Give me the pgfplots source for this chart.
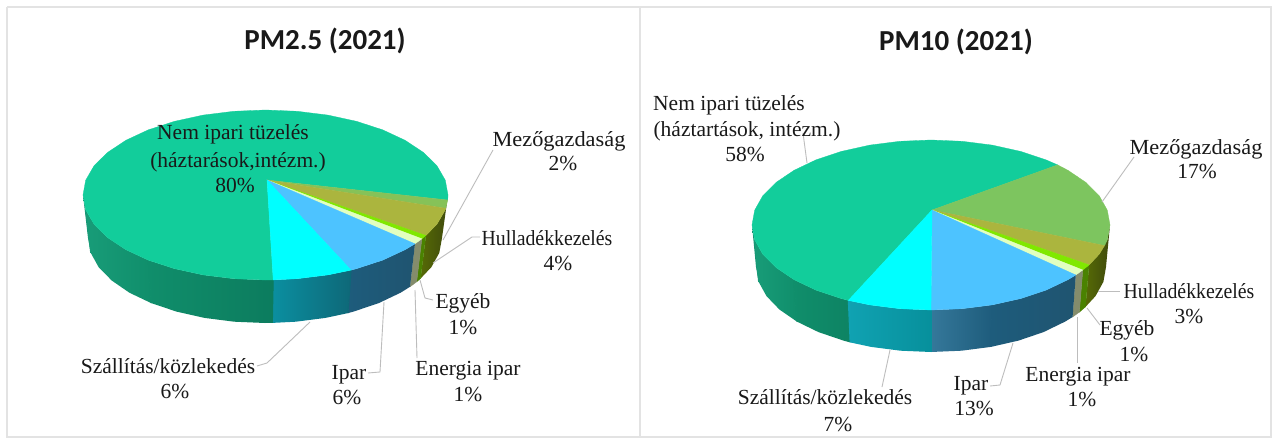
\documentclass[border=0pt]{standalone}
\usepackage{fontspec}
\setmainfont{Liberation Serif}
\newfontfamily\ttlfont{Carlito}
\usepackage{xcolor}
\usepackage{graphicx}
\usepackage{pgfplots}
\pgfplotsset{compat=1.18}

\definecolor{topgreen}{HTML}{12CD9B}
\definecolor{topmezo}{HTML}{7DC55F}
\definecolor{topolive}{HTML}{ABB53E}
\definecolor{topbright}{HTML}{80E800}
\definecolor{toppale}{HTML}{E2FFC0}
\definecolor{topblue}{HTML}{4DC3FF}
\definecolor{topcyan}{HTML}{00FFFF}
\definecolor{gd}{HTML}{0C7C5E}
\definecolor{gm}{HTML}{108E6B}
\definecolor{gl}{HTML}{189C78}
\definecolor{ge}{HTML}{149070}
\definecolor{td}{HTML}{0E6878}
\definecolor{tl}{HTML}{0B8FA0}
\definecolor{tr}{HTML}{10A2B2}
\definecolor{ts}{HTML}{07909C}
\definecolor{bd}{HTML}{1F5470}
\definecolor{bm}{HTML}{1E5C7C}
\definecolor{bl}{HTML}{35789A}
\definecolor{od}{HTML}{3F4A0C}
\definecolor{ol}{HTML}{566A06}
\definecolor{sb}{HTML}{4A8200}
\definecolor{sg}{HTML}{848C6C}
\definecolor{leader}{HTML}{BDBDBD}

\newcommand{\pc}[2]{\addplot[fill=#1,draw=#1,line width=0.3pt,forget plot] coordinates {#2} -- cycle;}
\newcommand{\sd}[3]{\addplot[left color=#1,right color=#2,draw=none,forget plot] coordinates {#3} -- cycle;}
\newcommand{\seam}[2]{\addplot[draw=#1,line width=1pt,forget plot] coordinates {#2};}
\newcommand{\ldr}[1]{\addplot[draw=leader,line width=0.9pt,forget plot] coordinates {#1};}
\newcommand{\lb}[3]{\node[anchor=base,inner sep=0pt,text=black!90,font=\fontsize{21.5}{24}\selectfont] at (axis cs:#1,#2) {#3};}

\begin{document}
\begin{tikzpicture}
\begin{axis}[
  scale only axis,
  width=1278pt, height=439pt,
  xmin=0, xmax=1278, ymin=0, ymax=439,
  y dir=reverse,
  hide axis,
  no markers,
  clip=false,
]
\addplot[fill=white,draw=none,forget plot] coordinates {(0,0) (1278,0) (1278,439) (0,439)} -- cycle;
% panel frames
\addplot[draw=black!11,line width=1.2pt,forget plot] coordinates {(7,7) (640,7) (640,437) (7,437) (7,7)};
\addplot[draw=black!11,line width=1.2pt,forget plot] coordinates {(640,7) (1271,7) (1271,437) (640,437)};

% ---- PM2.5 side wall
\sd{ol}{od}{(448,195) (445.3,209.8) (437,224.1) (425.9,235.5) (420.6,278.5) (431.4,267.1) (439.3,252.8) (442,238)}
\pc{sb}{(425.9,235.5) (421.9,238.8) (416.7,281.8) (420.6,278.5)}
\pc{sg}{(421.9,238.8) (415,243.8) (410,286.8) (416.7,281.8)}
\sd{bm}{bd}{(415,243.8) (405.3,249.6) (382.8,260.1) (356.8,268.6) (351.1,270.1) (348,313.1) (353.5,311.6) (378.8,303.1) (400.6,292.7) (410,286.8)}
\sd{tl}{td}{(351.1,270.1) (327.9,274.9) (297.3,278.7) (273.2,279.9) (272.4,322.9) (295.8,321.7) (325.5,317.9) (348,313.1)}
\sd{gm}{gd}{(273.2,279.9) (265.5,280) (233.7,278.7) (203.1,274.9) (174.3,268.6) (148.2,260.1) (151.2,303.1) (176.5,311.6) (204.5,317.9) (234.2,321.7) (265,323) (272.4,322.9)}
\sd{gl}{gm}{(148.2,260.1) (125.7,249.6) (107.5,237.5) (94,224.1) (85.7,209.8) (90.7,252.8) (98.6,267.1) (111.7,280.5) (129.4,292.7) (151.2,303.1)}
\sd{ge}{gl}{(85.7,209.8) (83,195) (88,238) (90.7,252.8)}
\seam{gm}{(148.2,260.1) (151.2,303.1)}
\seam{gl}{(85.7,209.8) (90.7,252.8)}
\seam{td}{(351.1,270.1) (348,313.1)}
\seam{gd}{(273.2,279.9) (272.4,322.9)}

% ---- PM2.5 top face
\pc{topgreen}{(267,180) (273.2,279.9) (265.5,280) (233.7,278.7) (203.1,274.9) (174.3,268.6) (148.2,260.1) (125.7,249.6) (107.5,237.5) (94,224.1) (85.7,209.8) (83,195) (85.7,180.2) (94,165.9) (107.5,152.5) (125.7,140.4) (148.2,129.9) (174.3,121.4) (203.1,115.1) (233.7,111.3) (265.5,110) (297.3,111.3) (327.9,115.1) (356.8,121.4) (382.8,129.9) (405.3,140.4) (423.5,152.5) (437,165.9) (445.3,180.2) (448,195) (447.7,200)}
\pc{topmezo!80!topolive}{(267,180) (447.7,200) (445.8,208.3)}
\pc{topolive}{(267,180) (445.8,208.3) (445.3,209.8) (437,224.1) (425.9,235.5)}
\pc{topbright}{(267,180) (425.9,235.5) (421.9,238.8)}
\pc{toppale}{(267,180) (421.9,238.8) (415,243.8)}
\pc{topblue}{(267,180) (415,243.8) (405.3,249.6) (382.8,260.1) (356.8,268.6) (351.1,270.1)}
\pc{topcyan}{(267,180) (351.1,270.1) (327.9,274.9) (297.3,278.7) (273.2,279.9)}

% ---- PM10 side wall
\sd{ol}{od}{(1110,225) (1107.3,239.8) (1099.3,254.1) (1089.1,264.9) (1085.5,306.9) (1095.5,296.1) (1103.4,281.8) (1106,267)}
\pc{sb}{(1089.1,264.9) (1082.8,270) (1079.4,312.1) (1085.5,306.9)}
\pc{sg}{(1082.8,270) (1075.8,275) (1072.6,317) (1079.4,312.1)}
\sd{bm}{bd}{(1075.8,275) (1068.1,279.6) (1046.1,290.1) (1020.5,298.6) (992.2,304.9) (990.9,346.9) (1018.5,340.6) (1043.5,332.1) (1065.1,321.6) (1072.6,317)}
\sd{bl}{bm}{(992.2,304.9) (962.1,308.7) (931,310) (931,352) (961.5,350.7) (990.9,346.9)}
\sd{tr}{ts}{(931,310) (899.9,308.7) (869.8,304.9) (848.3,300.4) (850.1,342.4) (871.1,346.9) (900.5,350.7) (931,352)}
\sd{gm}{gd!60!gm}{(848.3,300.4) (841.5,298.6) (815.9,290.1) (793.9,279.6) (796.9,321.6) (818.5,332.1) (843.5,340.6) (850.1,342.4)}
\sd{gl}{gm}{(793.9,279.6) (776,267.5) (762.7,254.1) (754.7,239.8) (758.6,281.8) (766.5,296.1) (779.4,309.5) (796.9,321.6)}
\sd{ge}{gl}{(754.7,239.8) (752,225) (756,267) (758.6,281.8)}
\seam{gm}{(793.9,279.6) (796.9,321.6)}
\seam{gl}{(754.7,239.8) (758.6,281.8)}
\seam{bm}{(992.2,304.9) (990.9,346.9)}
\seam{ts}{(931,310) (931,352)}
\seam{tr}{(848.3,300.4) (850.1,342.4)}

% ---- PM10 top face
\pc{topgreen}{(932,210) (848.3,300.4) (841.5,298.6) (815.9,290.1) (793.9,279.6) (776,267.5) (762.7,254.1) (754.7,239.8) (752,225) (754.7,210.2) (762.7,195.9) (776,182.5) (793.9,170.4) (815.9,159.9) (841.5,151.4) (869.8,145.1) (899.9,141.3) (931,140) (962.1,141.3) (992.2,145.1) (1020.5,151.4) (1046.1,159.9) (1057.6,164.9)}
\pc{topmezo}{(932,210) (1057.6,164.9) (1068.1,170.4) (1086,182.5) (1099.3,195.9) (1107.3,210.2) (1110,225) (1107.3,239.8) (1104.6,245.6)}
\pc{topolive}{(932,210) (1104.6,245.6) (1099.3,254.1) (1089.1,264.9)}
\pc{topbright}{(932,210) (1089.1,264.9) (1082.8,270)}
\pc{toppale}{(932,210) (1082.8,270) (1075.8,275)}
\pc{topblue}{(932,210) (1075.8,275) (1068.1,279.6) (1046.1,290.1) (1020.5,298.6) (992.2,304.9) (962.1,308.7) (931,310)}
\pc{topcyan}{(932,210) (931,310) (899.9,308.7) (869.8,304.9) (848.3,300.4)}

% ---- leader lines, PM2.5
\ldr{(443,240) (493,150)}
\ldr{(433,263) (472,237) (480,237)}
\ldr{(420,280) (425,298) (433,300)}
\ldr{(415,290) (417,358)}
\ldr{(384,302) (380,372) (368,373)}
\ldr{(310,322) (267,363) (257,366)}
% ---- leader lines, PM10
\ldr{(803,133) (807,163)}
\ldr{(1102,202) (1134,157)}
\ldr{(1098,291) (1120,291)}
\ldr{(1087,308) (1100,325)}
\ldr{(1077,317) (1077,363)}
\ldr{(1013,343) (1000,385) (990,386)}
\ldr{(890,350) (882,387)}

% ---- titles
\node[font=\ttlfont\bfseries\fontsize{29}{32}\selectfont,text=black!90] at (axis cs:325,41) {PM2.5 (2021)};
\node[font=\ttlfont\bfseries\fontsize{29}{32}\selectfont,text=black!90] at (axis cs:956,42) {PM10 (2021)};

% ---- labels, PM2.5
\lb{233}{139}{Nem ipari tüzelés}
\lb{238}{167}{(háztarások,intézm.)}
\lb{235}{192}{80\%}
\lb{559}{146}{\scalebox{1.04}[1]{Mezőgazdaság}}
\lb{563}{170}{2\%}
\lb{547}{245}{\scalebox{0.92}[1]{Hulladékkezelés}}
\lb{558}{270}{4\%}
\lb{463}{308}{Egyéb}
\lb{463}{334}{1\%}
\lb{468}{375}{Energia ipar}
\lb{468}{401}{1\%}
\lb{349}{379}{Ipar}
\lb{347}{404}{6\%}
\lb{168}{373}{Szállítás/közlekedés}
\lb{175}{398}{6\%}
% ---- labels, PM10
\lb{729}{110}{Nem ipari tüzelés}
\lb{747}{136}{(háztartások, intézm.)}
\lb{745}{161}{58\%}
\lb{1196}{154}{\scalebox{1.04}[1]{Mezőgazdaság}}
\lb{1197}{178}{17\%}
\lb{1189}{298}{\scalebox{0.92}[1]{Hulladékkezelés}}
\lb{1189}{323}{3\%}
\lb{1127}{335}{Egyéb}
\lb{1134}{361}{1\%}
\lb{1078}{381}{Energia ipar}
\lb{1082}{406}{1\%}
\lb{971}{390}{Ipar}
\lb{974}{415}{13\%}
\lb{825}{404}{Szállítás/közlekedés}
\lb{838}{431}{7\%}
\end{axis}
\end{tikzpicture}
\end{document}
